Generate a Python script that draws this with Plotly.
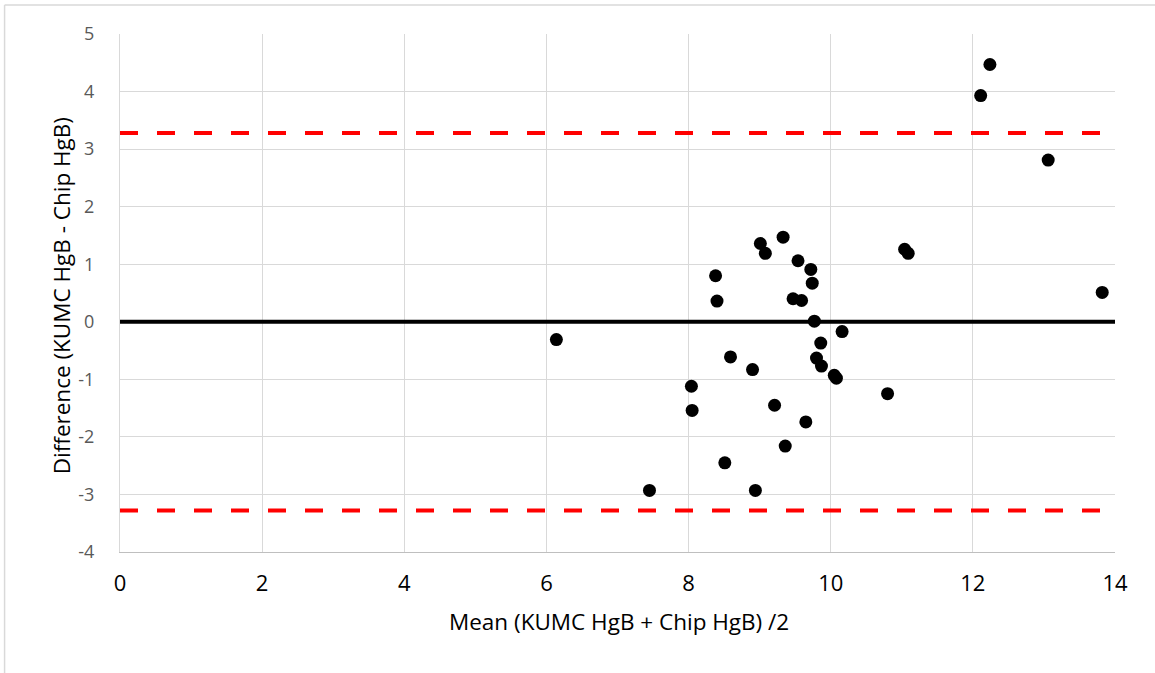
import plotly.graph_objects as go

mean_vals = [6.14, 7.45, 9.01, 9.33, 9.08, 9.54, 9.72, 9.74, 8.38, 8.40, 9.47, 9.59,
             9.77, 10.16, 9.86, 9.80, 9.87, 10.05, 10.08, 8.59, 8.90, 8.04, 8.05, 9.21,
             9.65, 9.36, 8.51, 8.94, 10.80, 11.04, 11.09, 12.24, 12.11, 13.06, 13.82]
diff_vals = [-0.31, -2.93, 1.36, 1.47, 1.19, 1.06, 0.91, 0.67, 0.80, 0.36, 0.40, 0.37,
             0.01, -0.17, -0.37, -0.63, -0.77, -0.93, -0.98, -0.61, -0.83, -1.12, -1.54, -1.45,
             -1.74, -2.16, -2.45, -2.93, -1.25, 1.26, 1.19, 4.47, 3.93, 2.81, 0.51]
mean_diff = 0.0
upper_loa = 3.28
lower_loa = -3.28
x_range = [0, 14]
y_range = [-4, 5]
x_ticks = [0, 2, 4, 6, 8, 10, 12, 14]
y_ticks = [-4, -3, -2, -1, 0, 1, 2, 3, 4, 5]
y_ticktext = ["-4", "-3", "-2", "-1", "0", "1", "2", "3", "4", "5"]

FONT = "Open Sans"

fig = go.Figure()
fig.add_trace(go.Scatter(x=x_range, y=[upper_loa, upper_loa], mode="lines",
                         line=dict(color="#ff0000", width=4, dash="18px,19px"),
                         hoverinfo="skip", showlegend=False))
fig.add_trace(go.Scatter(x=x_range, y=[lower_loa, lower_loa], mode="lines",
                         line=dict(color="#ff0000", width=4, dash="18px,19px"),
                         hoverinfo="skip", showlegend=False))
fig.add_trace(go.Scatter(x=x_range, y=[mean_diff, mean_diff], mode="lines",
                         line=dict(color="#000000", width=4),
                         hoverinfo="skip", showlegend=False))
fig.add_trace(go.Scatter(x=mean_vals, y=diff_vals, mode="markers",
                         marker=dict(color="#000000", size=13),
                         showlegend=False))

fig.update_layout(
    width=1155, height=673,
    margin=dict(l=120, r=40, t=34, b=121),
    paper_bgcolor="white", plot_bgcolor="white",
    font=dict(family=FONT),
    xaxis=dict(range=x_range, tickvals=x_ticks, showgrid=True, gridcolor="#d9d9d9",
               gridwidth=1, zeroline=False, showline=True, linecolor="#bfbfbf",
               linewidth=1, ticks="", ticklabelstandoff=12,
               tickfont=dict(size=22, color="#000000", family=FONT)),
    yaxis=dict(range=y_range, tickvals=y_ticks, ticktext=y_ticktext, showgrid=True,
               gridcolor="#d9d9d9", gridwidth=1, zeroline=False, showline=True,
               linecolor="#d9d9d9", linewidth=1, ticks="", ticklabelstandoff=21,
               tickfont=dict(size=18, color="#595959", family=FONT)),
    shapes=[dict(type="line", xref="paper", yref="paper", x0=-0.116, x1=1.1,
                 y0=1.056, y1=1.056, line=dict(color="#d9d9d9", width=1.5)),
            dict(type="line", xref="paper", yref="paper", x0=-0.116, x1=-0.116,
                 y0=1.056, y1=-0.3, line=dict(color="#d9d9d9", width=1.5))],
    annotations=[
        dict(text="Mean (KUMC HgB + Chip HgB) /2", xref="paper", yref="paper",
             x=(619 - 120) / 995, y=(551.5 - 621) / 517.5, showarrow=False,
             xanchor="center", yanchor="middle",
             font=dict(size=22.5, color="#000000", family=FONT)),
        dict(text="Difference (KUMC HgB - Chip HgB)", xref="paper", yref="paper",
             x=(61 - 120) / 995, y=(551.5 - 296) / 517.5, showarrow=False,
             xanchor="center", yanchor="middle", textangle=-90,
             font=dict(size=22.5, color="#000000", family=FONT)),
    ],
)

fig.write_html("out.html", config={"displayModeBar": False},
               post_script="document.body.style.margin='0';")
